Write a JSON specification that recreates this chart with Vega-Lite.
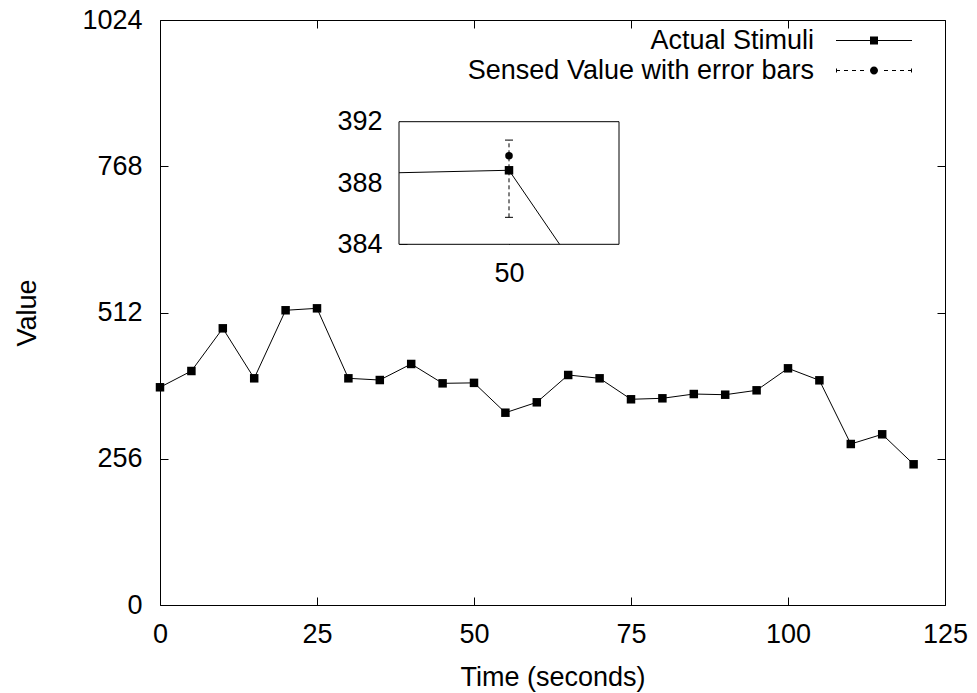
{
  "$schema": "https://vega.github.io/schema/vega-lite/v6.json",
  "width": 785,
  "height": 585,
  "autosize": {"type": "none"},
  "padding": {"left": 160, "top": 20, "right": 32, "bottom": 88},
  "background": "white",
  "config": {
    "view": {"stroke": "black", "strokeWidth": 1},
    "axis": {
      "labelFont": "Liberation Sans",
      "titleFont": "Liberation Sans",
      "labelFontSize": 27,
      "titleFontSize": 27,
      "titleFontWeight": "normal",
      "labelColor": "black",
      "titleColor": "black",
      "tickColor": "black",
      "tickWidth": 1,
      "domain": false,
      "grid": false,
      "tickSize": -8,
      "labelFlush": false,
      "labelOverlap": false,
      "format": "d"
    }
  },
  "datasets": {
    "stimuli": [
      {"t": 0, "v": 381.1}, {"t": 5, "v": 409.6}, {"t": 10, "v": 484.3}, {"t": 15, "v": 396.8},
      {"t": 20, "v": 515.9}, {"t": 25, "v": 519.3}, {"t": 30, "v": 396.8}, {"t": 35, "v": 393.8},
      {"t": 40, "v": 421.9}, {"t": 45, "v": 388.0}, {"t": 50, "v": 388.83}, {"t": 55, "v": 336.6},
      {"t": 60, "v": 354.8}, {"t": 65, "v": 402.6}, {"t": 70, "v": 396.8}, {"t": 75, "v": 360.1},
      {"t": 80, "v": 361.8}, {"t": 85, "v": 369.3}, {"t": 90, "v": 368.1}, {"t": 95, "v": 375.8},
      {"t": 100, "v": 414.3}, {"t": 105, "v": 393.3}, {"t": 110, "v": 281.8}, {"t": 115, "v": 298.8},
      {"t": 120, "v": 246.3}
    ],
    "insetLine": [
      {"t": 49, "v": 388.67}, {"t": 50, "v": 388.83}, {"t": 50.46, "v": 384}
    ],
    "insetPoint": [{"t": 50, "v": 388.83}],
    "sensed": [{"t": 50, "v": 389.78, "lo": 385.76, "hi": 390.8}],
    "frame": [{"x1": 49, "x2": 51, "y1": 384, "y2": 392}],
    "series": [{"series": "Actual Stimuli"}, {"series": "Sensed Value with error bars"}]
  },
  "layer": [
    {
      "data": {"name": "stimuli"},
      "encoding": {
        "x": {"field": "t", "type": "quantitative",
          "scale": {"domain": [0, 125], "nice": false, "zero": false},
          "axis": {"orient": "bottom", "values": [0, 25, 50, 75, 100, 125], "title": "Time (seconds)", "labelPadding": 24, "titlePadding": 17}},
        "y": {"field": "v", "type": "quantitative",
          "scale": {"domain": [0, 1024], "nice": false, "zero": false},
          "axis": {"orient": "left", "values": [0, 256, 512, 768, 1024], "title": "Value", "labelPadding": 26, "titlePadding": 40}}
      },
      "layer": [
        {"mark": {"type": "line", "color": "black", "strokeWidth": 1}},
        {"mark": {"type": "point", "shape": "square", "filled": true, "color": "black", "size": 72, "opacity": 1}}
      ]
    },
    {
      "data": {"name": "stimuli"},
      "transform": [{"filter": "false"}],
      "mark": "point",
      "encoding": {
        "x": {"field": "t", "type": "quantitative",
          "scale": {"domain": [0, 125], "nice": false, "zero": false},
          "axis": {"orient": "top", "labels": false, "title": null, "values": [0, 25, 50, 75, 100, 125]}},
        "y": {"field": "v", "type": "quantitative",
          "scale": {"domain": [0, 1024], "nice": false, "zero": false},
          "axis": {"orient": "right", "labels": false, "title": null, "values": [0, 256, 512, 768, 1024]}}
      }
    },
    {
      "encoding": {
        "x": {"field": "t", "type": "quantitative",
          "scale": {"domain": [49, 51], "range": [239, 459], "nice": false, "zero": false},
          "axis": {"orient": "bottom", "offset": -360.7, "values": [50], "title": null, "labelPadding": 24}},
        "y": {"field": "v", "type": "quantitative",
          "scale": {"domain": [384, 392], "range": [224.3, 101.7], "nice": false, "zero": false},
          "axis": {"orient": "left", "offset": -239, "values": [384, 388, 392], "title": null, "labelPadding": 25}}
      },
      "layer": [
        {
          "data": {"name": "frame"},
          "mark": {"type": "rect", "fill": "white", "stroke": "black", "strokeWidth": 1},
          "encoding": {
            "x": {"field": "x1", "type": "quantitative"},
            "x2": {"field": "x2"},
            "y": {"field": "y1", "type": "quantitative"},
            "y2": {"field": "y2"}
          }
        },
        {
          "data": {"name": "insetLine"},
          "mark": {"type": "line", "color": "black", "strokeWidth": 1}
        },
        {
          "data": {"name": "insetPoint"},
          "mark": {"type": "point", "shape": "square", "filled": true, "color": "black", "size": 72, "opacity": 1}
        },
        {
          "data": {"name": "sensed"},
          "mark": {"type": "rule", "color": "black", "strokeWidth": 1, "strokeDash": [4, 3]},
          "encoding": {"y": {"field": "lo", "type": "quantitative"}, "y2": {"field": "hi"}}
        },
        {
          "data": {"name": "sensed"},
          "mark": {"type": "tick", "orient": "horizontal", "color": "black", "size": 8, "thickness": 1, "opacity": 1},
          "encoding": {"y": {"field": "lo", "type": "quantitative"}}
        },
        {
          "data": {"name": "sensed"},
          "mark": {"type": "tick", "orient": "horizontal", "color": "black", "size": 8, "thickness": 1, "opacity": 1},
          "encoding": {"y": {"field": "hi", "type": "quantitative"}}
        },
        {
          "data": {"name": "sensed"},
          "mark": {"type": "point", "shape": "circle", "filled": true, "color": "black", "size": 57, "opacity": 1}
        }
      ]
    },
    {
      "data": {"name": "series"},
      "transform": [{"filter": "false"}],
      "mark": {"type": "point", "filled": true, "fill": "black", "size": 256, "opacity": 1},
      "encoding": {
        "shape": {
          "field": "series", "type": "nominal",
          "scale": {
            "domain": ["Actual Stimuli", "Sensed Value with error bars"],
            "range": [
              "M-4.75,-0.0625H4.75V0.0625H-4.75ZM-0.5,-0.5H0.5V0.5H-0.5Z",
              "M-4.75,-0.25H-4.625V0.25H-4.75ZM4.625,-0.25H4.75V0.25H4.625ZM-4.75,-0.0625H-4.25V0.0625H-4.75ZM-3.75,-0.0625H-3.25V0.0625H-3.75ZM-2.75,-0.0625H-2.25V0.0625H-2.75ZM-1.75,-0.0625H-1.25V0.0625H-1.75ZM1.25,-0.0625H1.75V0.0625H1.25ZM2.25,-0.0625H2.75V0.0625H2.25ZM3.25,-0.0625H3.75V0.0625H3.25ZM4.25,-0.0625H4.75V0.0625H4.25ZM0.5,0A0.5,0.5 0 1 1 -0.5,0A0.5,0.5 0 1 1 0.5,0Z"
            ]
          },
          "legend": {
            "title": null,
            "orient": "none",
            "legendX": 700.5,
            "legendY": 7,
            "padding": 0,
            "rowPadding": 2,
            "labelAlign": "right",
            "labelOffset": -73.5,
            "labelFont": "Liberation Sans",
            "labelFontSize": 27,
            "labelColor": "black",
            "labelLimit": 1000,
            "symbolSize": 256,
            "symbolStrokeWidth": 0,
            "symbolFillColor": "black",
            "symbolOpacity": 1,
            "encode": {
              "symbols": {"update": {"fill": {"value": "black"}, "opacity": {"value": 1}}}
            }
          }
        }
      }
    }
  ],
  "resolve": {"scale": {"x": "independent", "y": "independent", "shape": "independent"}}
}
